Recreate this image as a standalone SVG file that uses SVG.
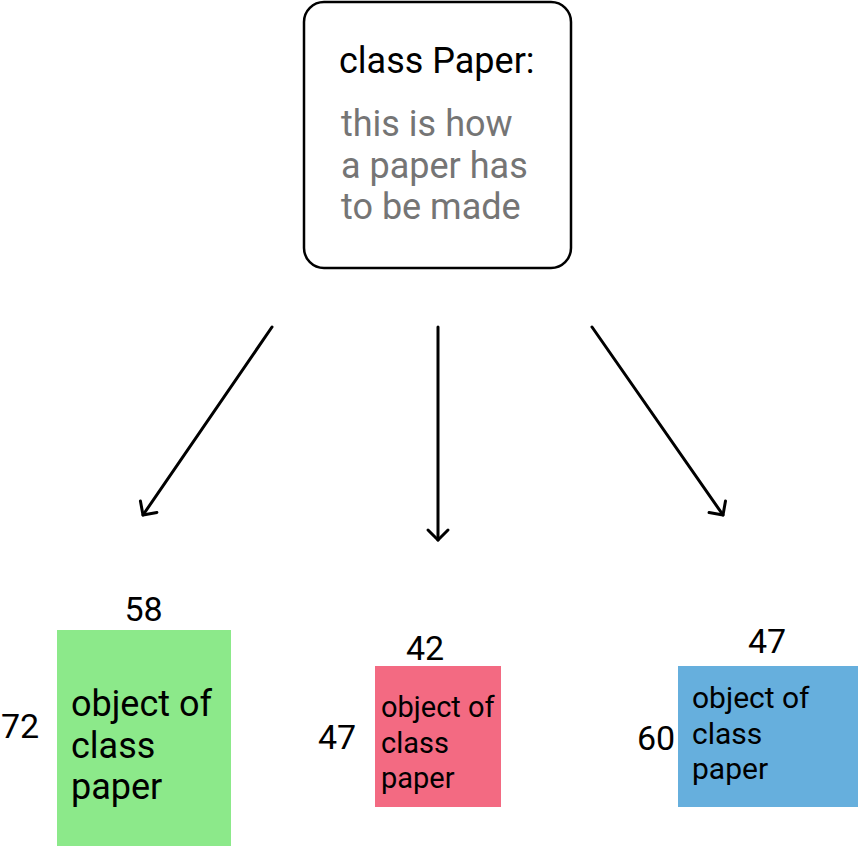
<svg xmlns="http://www.w3.org/2000/svg" width="858" height="846" viewBox="0 0 858 846">
<style>
text{font-family:Roboto,"Liberation Sans",sans-serif;fill:#000}
.h{font-size:36px}
.g{font-size:36px;fill:#757575}
.n{font-size:34px}
.t36{font-size:36px}
.t29{font-size:29px}
.t30{font-size:30px}
.c{stroke:#000;stroke-width:3;fill:none;stroke-linecap:round}
</style>
<defs>
<marker id="ah" markerUnits="userSpaceOnUse" markerWidth="30" markerHeight="30" viewBox="-15 -15 30 30" refX="0" refY="0" orient="auto">
<path d="M-10,-10 L0,0 L-10,10" fill="none" stroke="#000" stroke-width="3" stroke-linecap="round" stroke-linejoin="round"/>
</marker>
</defs>
<rect width="858" height="846" fill="#fff"/>
<g id="class-paper">
<rect x="304" y="2" width="267" height="266" rx="20" fill="#fff" stroke="#000" stroke-width="2.5"/>
<text class="h" x="339" y="73">class Paper:</text>
<text class="g" x="341" y="136">this is how</text>
<text class="g" x="341" y="178">a paper has</text>
<text class="g" x="341" y="219">to be made</text>
</g>
<g id="connectors">
<line class="c" x1="272" y1="327" x2="143" y2="515" marker-end="url(#ah)"/>
<line class="c" x1="438" y1="327" x2="438" y2="540" marker-end="url(#ah)"/>
<line class="c" x1="592" y1="327" x2="723" y2="515" marker-end="url(#ah)"/>
</g>
<g id="object-green">
<rect x="57" y="630" width="174" height="216" fill="#8CE98A"/>
<text class="n" x="143.5" y="621" text-anchor="middle">58</text>
<text class="n" x="20" y="738" text-anchor="middle">72</text>
<text class="t36" x="71" y="716">object of</text>
<text class="t36" x="71" y="758">class</text>
<text class="t36" x="71" y="799">paper</text>
</g>
<g id="object-red">
<rect x="375" y="666" width="126" height="141" fill="#F36A82"/>
<text class="n" x="425" y="660" text-anchor="middle">42</text>
<text class="n" x="337" y="749" text-anchor="middle">47</text>
<text class="t29" x="381" y="717">object of</text>
<text class="t29" x="381" y="753">class</text>
<text class="t29" x="381" y="788">paper</text>
</g>
<g id="object-blue">
<rect x="678" y="666" width="180" height="141" fill="#66AFDD"/>
<text class="n" x="767" y="653" text-anchor="middle">47</text>
<text class="n" x="656" y="750" text-anchor="middle">60</text>
<text class="t30" x="692" y="708">object of</text>
<text class="t30" x="692" y="744">class</text>
<text class="t30" x="692" y="779">paper</text>
</g>
</svg>
